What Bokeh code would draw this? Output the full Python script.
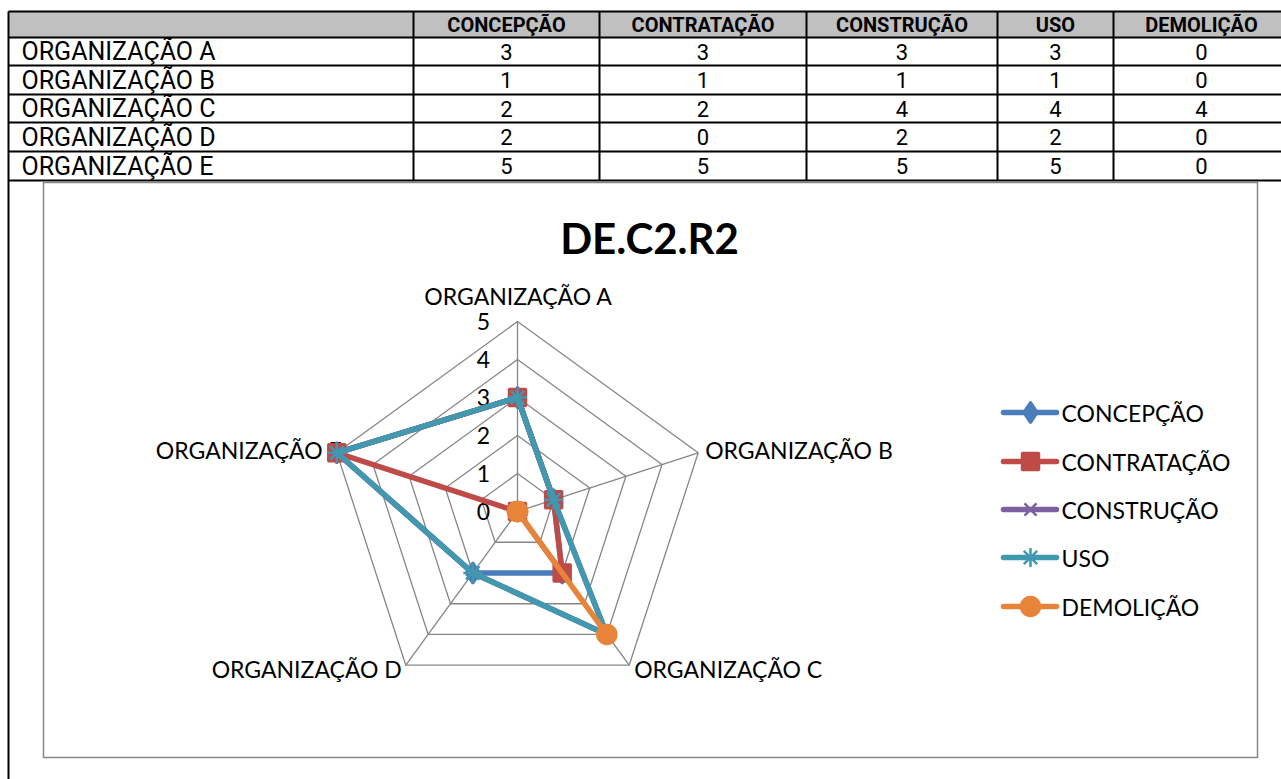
import math
from bokeh.plotting import figure
from bokeh.models import Range1d
from bokeh.core.properties import value
from bokeh.embed import file_html
from bokeh.resources import INLINE

# ---------------- data ----------------
organizations = ["ORGANIZAÇÃO A", "ORGANIZAÇÃO B", "ORGANIZAÇÃO C", "ORGANIZAÇÃO D", "ORGANIZAÇÃO E"]
series_names = ["CONCEPÇÃO", "CONTRATAÇÃO", "CONSTRUÇÃO", "USO", "DEMOLIÇÃO"]
concepcao = [3, 1, 2, 2, 5]
contratacao = [3, 1, 2, 0, 5]
construcao = [3, 1, 4, 2, 5]
uso = [3, 1, 4, 2, 5]
demolicao = [0, 0, 4, 0, 0]
radial_ticks = [0, 1, 2, 3, 4, 5]
title_text = "DE.C2.R2"

series_values = [concepcao, contratacao, construcao, uso, demolicao]
series_colors = ["#4a7ebb", "#be4b48", "#7d60a0", "#4198af", "#e8843a"]
series_markers = ["diamond", "square", "x", "asterisk", "circle"]
marker_sizes = [21, 17, 17, 19, 19]

# ---------------- figure (screen-pixel coordinates) ----------------
W, H = 1281, 779
p = figure(width=W, height=H, output_backend="svg", toolbar_location=None,
           x_range=Range1d(0, W), y_range=Range1d(H, 0),
           min_border=0, outline_line_color=None, background_fill_color="white")
p.axis.visible = False
p.grid.visible = False

TABLE_FONT = value("Roboto")
CHART_FONT = value("Lato")

# ---------------- table ----------------
col_edges = [8, 413, 599, 806, 997, 1113, 1289]
row_edges = [11, 37, 65, 94, 122, 151, 180]

p.quad(left=[col_edges[0]], right=[col_edges[-1]], top=[row_edges[0]], bottom=[row_edges[1]],
       fill_color="#c0c0c0", line_color=None)
for y in row_edges:
    p.line([col_edges[0], col_edges[-1]], [y, y], line_color="black", line_width=2)
for x in col_edges[1:]:
    p.line([x, x], [row_edges[0], row_edges[-1]], line_color="black", line_width=2)
p.line([col_edges[0], col_edges[0]], [row_edges[0], H], line_color="black", line_width=2)

col_centers = [(col_edges[i] + col_edges[i + 1]) / 2 for i in range(1, len(col_edges) - 1)]
p.text(x=col_centers, y=[(row_edges[0] + row_edges[1]) / 2] * len(series_names), text=series_names,
       text_font=TABLE_FONT, text_font_style="bold", text_font_size="20px",
       text_align="center", text_baseline="middle", text_color="black")
row_centers = [(row_edges[i] + row_edges[i + 1]) / 2 for i in range(1, len(row_edges) - 1)]
p.text(x=[21] * len(organizations), y=row_centers, text=organizations,
       text_font=TABLE_FONT, text_font_size="25px",
       text_align="left", text_baseline="middle", text_color="black")
for j, vals in enumerate(series_values):
    p.text(x=[col_centers[j]] * len(vals), y=row_centers, text=[str(v) for v in vals],
           text_font=TABLE_FONT, text_font_size="22px",
           text_align="center", text_baseline="middle", text_color="black")

# ---------------- chart frame ----------------
p.quad(left=[43], right=[1257], top=[182], bottom=[757], fill_color=None,
       line_color="#868686", line_width=1.5)

p.text(x=[649], y=[237], text=[title_text], text_font=CHART_FONT, text_font_style="bold",
       text_font_size="42px", text_align="center", text_baseline="middle", text_color="black")

# ---------------- radar ----------------
cx, cy, R = 517, 511, 190
vmax = max(radial_ticks)
n = len(organizations)
angles = [2 * math.pi * k / n for k in range(n)]

def pt(v, a):
    r = R * v / vmax
    return cx + r * math.sin(a), cy - r * math.cos(a)

for t in radial_ticks[1:]:
    xs = [pt(t, a)[0] for a in angles] + [pt(t, angles[0])[0]]
    ys = [pt(t, a)[1] for a in angles] + [pt(t, angles[0])[1]]
    p.line(xs, ys, line_color="#868686", line_width=1.3)
for a in angles:
    x1, y1 = pt(vmax, a)
    p.line([cx, x1], [cy, y1], line_color="#868686", line_width=1.3)

p.text(x=[cx - 34] * len(radial_ticks), y=[pt(t, 0)[1] for t in radial_ticks],
       text=[str(t) for t in radial_ticks], text_font=CHART_FONT, text_font_size="23px",
       text_align="center", text_baseline="middle", text_color="black")

# category labels
label_offsets = [(1, -26, "center"), (7, -3, "left"), (5, 4, "left"), (-4, 4, "right"), (5, -3, "right")]
for k, name in enumerate(organizations):
    vx, vy = pt(vmax, angles[k])
    dx, dy, al = label_offsets[k]
    p.text(x=[vx + dx], y=[vy + dy], text=[name], text_font=CHART_FONT, text_font_size="23px",
           text_align=al, text_baseline="middle", text_color="black")

for vals, col, mk, ms in zip(series_values, series_colors, series_markers, marker_sizes):
    xs = [pt(v, a)[0] for v, a in zip(vals, angles)]
    ys = [pt(v, a)[1] for v, a in zip(vals, angles)]
    p.line(xs + [xs[0]], ys + [ys[0]], line_color=col, line_width=5.5, line_join="round")
    p.scatter(xs, ys, marker=mk, size=ms, fill_color=col, line_color=col, line_width=2.5)

# ---------------- legend ----------------
leg_y = [412, 461, 509, 557, 606]
for name, col, mk, ms, y in zip(series_names, series_colors, series_markers, marker_sizes, leg_y):
    p.line([1003, 1056], [y, y], line_color=col, line_width=5.5, line_cap="round")
    p.scatter([1030], [y], marker=mk, size=ms, fill_color=col, line_color=col, line_width=2.5)
    p.text(x=[1061], y=[y], text=[name], text_font=CHART_FONT, text_font_size="23px",
           text_align="left", text_baseline="middle", text_color="black")

open("out.html", "w").write(file_html(p, INLINE))
